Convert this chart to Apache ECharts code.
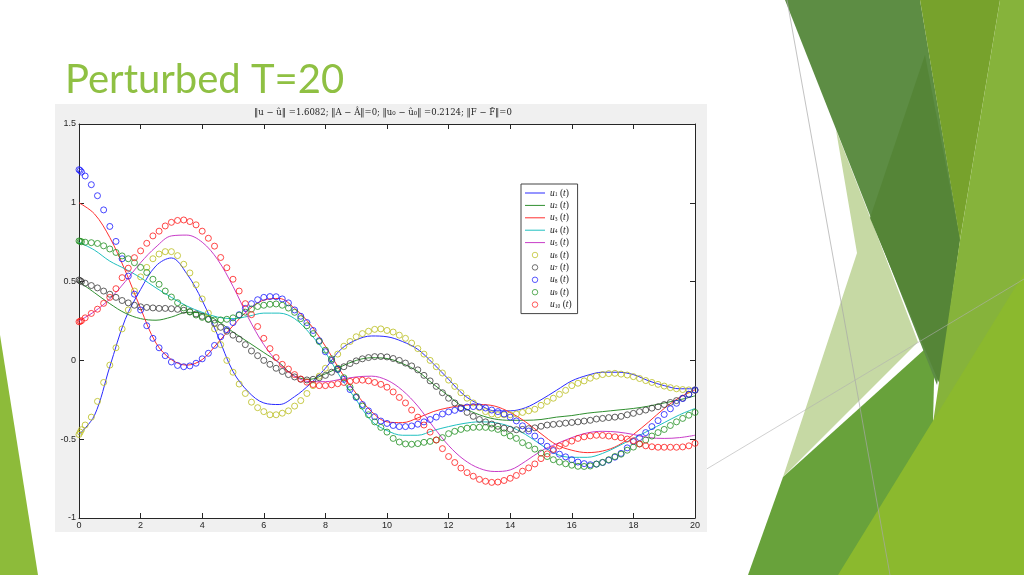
<!DOCTYPE html>
<html>
<head>
<meta charset="utf-8">
<script src="https://cdn.jsdelivr.net/npm/echarts@6/dist/echarts.min.js"></script>
<style>
html,body{margin:0;padding:0;background:#fff;}
#c{width:1024px;height:575px;}
</style>
</head>
<body>
<div id="c"></div>
<script>
// ---- data ----
const tLine = [0,0.5,1,1.5,2,2.5,3,3.5,4,4.5,5,5.5,6,6.5,7,7.5,8,8.5,9,9.5,10,10.5,11,11.5,12,12.5,13,13.5,14,14.5,15,15.5,16,16.5,17,17.5,18,18.5,19,19.5,20];
const u1 = [-0.47,-0.35,-0.04,0.26,0.45,0.6,0.65,0.55,0.38,0.16,-0.07,-0.2,-0.27,-0.28,-0.23,-0.15,-0.05,0.07,0.13,0.155,0.15,0.12,0.07,-0.02,-0.12,-0.22,-0.28,-0.32,-0.32,-0.3,-0.25,-0.19,-0.13,-0.095,-0.075,-0.075,-0.09,-0.13,-0.16,-0.18,-0.18];
const u2 = [0.5,0.43,0.36,0.3,0.265,0.255,0.275,0.305,0.3,0.25,0.18,0.115,0.05,-0.015,-0.1,-0.12,-0.085,-0.04,0.0,0.017,0.012,-0.02,-0.07,-0.15,-0.225,-0.3,-0.345,-0.372,-0.38,-0.38,-0.375,-0.36,-0.35,-0.335,-0.325,-0.315,-0.305,-0.29,-0.27,-0.25,-0.225];
const u3 = [1.0,0.93,0.78,0.57,0.33,0.11,0.005,-0.03,0.005,0.11,0.22,0.32,0.383,0.393,0.33,0.23,0.09,-0.07,-0.21,-0.325,-0.39,-0.395,-0.365,-0.325,-0.3,-0.285,-0.28,-0.29,-0.33,-0.39,-0.465,-0.535,-0.57,-0.585,-0.575,-0.54,-0.47,-0.39,-0.305,-0.235,-0.187];
const u4 = [0.75,0.7,0.63,0.58,0.525,0.46,0.4,0.345,0.305,0.275,0.265,0.28,0.3,0.3,0.265,0.17,0.05,-0.11,-0.25,-0.385,-0.445,-0.475,-0.475,-0.445,-0.42,-0.4,-0.39,-0.395,-0.42,-0.47,-0.535,-0.595,-0.615,-0.615,-0.59,-0.545,-0.495,-0.445,-0.395,-0.345,-0.305];
const u5 = [0.25,0.31,0.39,0.5,0.62,0.72,0.79,0.795,0.75,0.64,0.47,0.27,0.1,-0.02,-0.1,-0.135,-0.135,-0.12,-0.105,-0.1,-0.125,-0.19,-0.29,-0.42,-0.54,-0.63,-0.685,-0.705,-0.695,-0.64,-0.575,-0.53,-0.49,-0.46,-0.45,-0.455,-0.47,-0.49,-0.495,-0.49,-0.475];

const tPts = [0,0.04,0.08,
  0.2,0.4,0.6,0.8,1,1.2,1.4,1.6,1.8,2,
  2.2,2.4,2.6,2.8,3,3.2,3.4,3.6,3.8,4,
  4.2,4.4,4.6,4.8,5,5.2,5.4,5.6,5.8,6,
  6.2,6.4,6.6,6.8,7,7.2,7.4,7.6,7.8,8,
  8.2,8.4,8.6,8.8,9,9.2,9.4,9.6,9.8,10,
  10.2,10.4,10.6,10.8,11,11.2,11.4,11.6,11.8,12,
  12.2,12.4,12.6,12.8,13,13.2,13.4,13.6,13.8,14,
  14.2,14.4,14.6,14.8,15,15.2,15.4,15.6,15.8,16,
  16.2,16.4,16.6,16.8,17,17.2,17.4,17.6,17.8,18,
  18.2,18.4,18.6,18.8,19,19.2,19.4,19.6,19.8,20];
const u6 = [-0.47,-0.455,-0.44,
  -0.41,-0.36,-0.26,-0.14,-0.03,0.08,0.2,0.32,0.44,0.53,
  0.59,0.645,0.675,0.69,0.69,0.665,0.61,0.555,0.48,0.39,
  0.3,0.2,0.1,0.0,-0.075,-0.15,-0.21,-0.265,-0.3,-0.325,
  -0.345,-0.345,-0.335,-0.32,-0.29,-0.255,-0.21,-0.16,-0.1,-0.05,
  0.0,0.04,0.09,0.12,0.15,0.17,0.185,0.197,0.2,0.19,
  0.18,0.16,0.14,0.11,0.075,0.04,0.0,-0.04,-0.08,-0.125,
  -0.165,-0.205,-0.24,-0.27,-0.3,-0.325,-0.34,-0.345,-0.345,-0.345,
  -0.34,-0.33,-0.32,-0.31,-0.285,-0.26,-0.24,-0.215,-0.19,-0.16,
  -0.145,-0.13,-0.113,-0.1,-0.09,-0.084,-0.082,-0.087,-0.093,-0.103,
  -0.115,-0.128,-0.14,-0.152,-0.163,-0.173,-0.18,-0.185,-0.187,-0.187];
const u7 = [0.51,0.505,0.5,
  0.49,0.475,0.46,0.44,0.42,0.4,0.38,0.365,0.35,0.34,
  0.336,0.333,0.33,0.33,0.328,0.324,0.318,0.31,0.295,0.28,
  0.26,0.235,0.21,0.185,0.16,0.135,0.1,0.06,0.03,0.0,
  -0.025,-0.05,-0.07,-0.09,-0.105,-0.12,-0.124,-0.12,-0.11,-0.095,
  -0.075,-0.058,-0.04,-0.02,-0.003,0.01,0.018,0.024,0.025,0.022,
  0.012,0.0,-0.017,-0.035,-0.06,-0.095,-0.13,-0.165,-0.205,-0.24,
  -0.27,-0.3,-0.33,-0.355,-0.375,-0.39,-0.404,-0.418,-0.43,-0.437,
  -0.44,-0.438,-0.433,-0.428,-0.418,-0.41,-0.406,-0.402,-0.398,-0.394,
  -0.39,-0.385,-0.38,-0.372,-0.368,-0.363,-0.36,-0.355,-0.345,-0.336,
  -0.325,-0.315,-0.303,-0.294,-0.28,-0.267,-0.255,-0.24,-0.215,-0.19];
const u8 = [1.21,1.205,1.195,
  1.17,1.115,1.045,0.955,0.85,0.755,0.645,0.535,0.42,0.32,
  0.22,0.14,0.08,0.03,-0.01,-0.032,-0.04,-0.035,-0.018,0.01,
  0.045,0.095,0.15,0.195,0.24,0.29,0.33,0.36,0.385,0.4,
  0.405,0.404,0.39,0.365,0.32,0.28,0.24,0.19,0.125,0.055,
  0.0,-0.055,-0.12,-0.185,-0.235,-0.28,-0.32,-0.357,-0.385,-0.4,
  -0.413,-0.42,-0.42,-0.416,-0.405,-0.39,-0.375,-0.36,-0.34,-0.327,
  -0.317,-0.306,-0.296,-0.293,-0.295,-0.302,-0.315,-0.325,-0.34,-0.36,
  -0.384,-0.415,-0.448,-0.48,-0.512,-0.545,-0.572,-0.595,-0.612,-0.63,
  -0.645,-0.655,-0.662,-0.658,-0.648,-0.633,-0.614,-0.59,-0.555,-0.515,
  -0.49,-0.458,-0.42,-0.382,-0.343,-0.307,-0.272,-0.242,-0.215,-0.187];
const u9 = [0.758,0.755,0.753,
  0.75,0.747,0.742,0.727,0.707,0.685,0.663,0.645,0.62,0.59,
  0.558,0.515,0.483,0.44,0.402,0.366,0.333,0.307,0.288,0.273,
  0.262,0.256,0.257,0.261,0.27,0.287,0.306,0.326,0.342,0.35,
  0.356,0.358,0.35,0.332,0.305,0.265,0.22,0.17,0.12,0.065,
  0.01,-0.05,-0.11,-0.17,-0.23,-0.29,-0.345,-0.39,-0.425,-0.455,
  -0.495,-0.518,-0.53,-0.532,-0.528,-0.52,-0.514,-0.505,-0.49,-0.465,
  -0.45,-0.438,-0.43,-0.425,-0.424,-0.425,-0.43,-0.438,-0.46,-0.48,
  -0.495,-0.522,-0.54,-0.563,-0.588,-0.61,-0.63,-0.645,-0.656,-0.665,
  -0.672,-0.673,-0.67,-0.658,-0.647,-0.63,-0.61,-0.595,-0.57,-0.55,
  -0.53,-0.505,-0.48,-0.458,-0.438,-0.413,-0.39,-0.368,-0.348,-0.33];
const u10 = [0.245,0.248,0.252,
  0.27,0.298,0.325,0.362,0.4,0.455,0.525,0.585,0.652,0.695,
  0.743,0.79,0.82,0.853,0.876,0.888,0.891,0.881,0.86,0.82,
  0.775,0.725,0.653,0.588,0.515,0.44,0.36,0.29,0.215,0.14,
  0.075,0.018,-0.025,-0.055,-0.09,-0.118,-0.138,-0.153,-0.16,-0.16,
  -0.155,-0.148,-0.14,-0.133,-0.127,-0.125,-0.13,-0.14,-0.152,-0.17,
  -0.2,-0.235,-0.27,-0.315,-0.36,-0.41,-0.455,-0.505,-0.56,-0.61,
  -0.648,-0.683,-0.712,-0.735,-0.755,-0.767,-0.774,-0.772,-0.762,-0.748,
  -0.73,-0.703,-0.682,-0.657,-0.623,-0.593,-0.565,-0.543,-0.527,-0.512,
  -0.495,-0.485,-0.479,-0.475,-0.476,-0.48,-0.485,-0.491,-0.499,-0.51,
  -0.53,-0.542,-0.548,-0.551,-0.551,-0.551,-0.551,-0.549,-0.542,-0.526];

const xTicks = {min: 0, max: 20, interval: 2};
const yTicks = {min: -1, max: 1.5, interval: 0.5};
const slideTitle = 'Perturbed T=20';
const plotTitle = '\u2016u \u2212 \u00fb\u2016 =1.6082; \u2016A \u2212 \u00c2\u2016=0; \u2016u\u2080 \u2212 \u00fb\u2080\u2016 =0.2124; \u2016F \u2212 F\u0302\u2016=0';

// ---- build ----
const zip = (xs, ys) => xs.map((x, i) => [x, ys[i]]);
const lineDefs = [['u1', u1, '#2a2aff'], ['u2', u2, '#2f8f2f'], ['u3', u3, '#ff3030'], ['u4', u4, '#20c0c0'], ['u5', u5, '#c83cc8']];
const ptDefs = [['u6', u6, '#b9bd1c'], ['u7', u7, '#3a3a3a'], ['u8', u8, '#1a1aff'], ['u9', u9, '#1f8f1f'], ['u10', u10, '#ff1a1a']];

const series = [];
lineDefs.forEach(([n, d, c]) => series.push({
  name: n, type: 'line', data: zip(tLine, d), symbol: 'none', smooth: 0.35,
  lineStyle: {color: c, width: 1}, itemStyle: {color: c}, z: 2
}));
ptDefs.forEach(([n, d, c]) => series.push({
  name: n, type: 'scatter', data: zip(tPts, d), symbol: 'circle', symbolSize: 6,
  itemStyle: {color: 'rgba(0,0,0,0)', borderColor: c, borderWidth: 1}, z: 3
}));

const legendData = lineDefs.map(([n]) => ({name: n, icon: 'path://M0,0 L20,0 L20,1 L0,1 Z'}))
  .concat(ptDefs.map(([n]) => ({name: n, icon: 'circle', itemStyle: {borderWidth: 0.9}})));

const poly = (pts, fill) => ({type: 'polygon', shape: {points: pts}, style: {fill: fill}, z: -10, silent: true});
const graphics = [
  poly([[836,130],[872,222],[918,342],[783,477],[857,253]], '#c6d9a4'),
  poly([[935,340],[783,477],[748,575],[860,575],[933,423]], '#68a23b'),
  poly([[785,0],[920,0],[960,238],[937,385]], '#5d8d44'),
  poly([[870,218],[925,55],[960,240],[940,385]], '#558537'),
  poly([[920,0],[1000,0],[960,240]], '#77a22c'),
  poly([[1000,0],[1024,0],[1024,575],[855,575],[933,423],[960,240]], '#86b33b'),
  poly([[1024,273],[1024,575],[838,575]], '#8bb92e'),
  poly([[0,335],[38,575],[0,575]], '#8dbb3a'),
  {type: 'line', shape: {x1: 787, y1: 0, x2: 890, y2: 575}, style: {stroke: '#a8a8a8', lineWidth: 0.7}, z: -9, silent: true},
  {type: 'line', shape: {x1: 700, y1: 473, x2: 1024, y2: 279}, style: {stroke: '#b0b0b0', lineWidth: 0.6}, z: -9, silent: true},
  {type: 'rect', shape: {x: 55, y: 104, width: 652, height: 428}, style: {fill: '#f0f0f0'}, z: -8, silent: true},
  {type: 'rect', shape: {x: 79, y: 124, width: 616, height: 394}, style: {fill: '#ffffff'}, z: -7, silent: true},
  {type: 'text', style: {text: plotTitle, x: 383, y: 113, fill: '#222', fontSize: 8.5, fontFamily: '"DejaVu Serif", serif', align: 'center', verticalAlign: 'middle'}, z: -6, silent: true},
  {type: 'text', style: {text: slideTitle, x: 65, y: 80, fill: '#8fc043', fontSize: 40, fontFamily: 'Lato, "Open Sans", sans-serif', align: 'left', verticalAlign: 'middle'}, z: -6, silent: true}
];

const axisCommon = {
  type: 'value', splitLine: {show: false},
  axisLine: {show: true, onZero: false, lineStyle: {color: '#262626', width: 1}},
  axisTick: {show: true, inside: true, length: 5, lineStyle: {color: '#262626'}},
  axisLabel: {color: '#262626', fontSize: 9, fontFamily: '"Liberation Sans", Arial, sans-serif', margin: 3}
};

const chart = echarts.init(document.getElementById('c'), null, {renderer: 'canvas'});
chart.setOption({
  animation: false,
  backgroundColor: '#ffffff',
  graphic: graphics,
  grid: {left: 79, right: 329, top: 124, bottom: 57, containLabel: false},
  xAxis: [
    Object.assign({}, axisCommon, xTicks, {position: 'bottom'}),
    Object.assign({}, axisCommon, xTicks, {position: 'top', axisLabel: {show: false}})
  ],
  yAxis: [
    Object.assign({}, axisCommon, yTicks, {position: 'left'}),
    Object.assign({}, axisCommon, yTicks, {position: 'right', axisLabel: {show: false}})
  ],
  legend: {
    orient: 'vertical', left: 521, top: 184,
    data: legendData,
    itemWidth: 20, itemHeight: 5.5, itemGap: 2.4,
    padding: [4, 6, 4, 4],
    backgroundColor: '#ffffff', borderColor: '#444', borderWidth: 1,
    formatter: name => '{i|u}{s|' + name.slice(1) + '}{n| (}{i|t}{n|)}',
    textStyle: {
      color: '#222', fontSize: 9, lineHeight: 9,
      rich: {
        i: {fontFamily: '"Liberation Serif", serif', fontStyle: 'italic', fontSize: 9.5, lineHeight: 9, color: '#222'},
        s: {fontFamily: '"Liberation Serif", serif', fontSize: 5.5, lineHeight: 9, verticalAlign: 'bottom', color: '#222'},
        n: {fontFamily: '"Liberation Serif", serif', fontSize: 9.5, lineHeight: 9, color: '#222'}
      }
    }
  },
  series: series
});
</script>
</body>
</html>
